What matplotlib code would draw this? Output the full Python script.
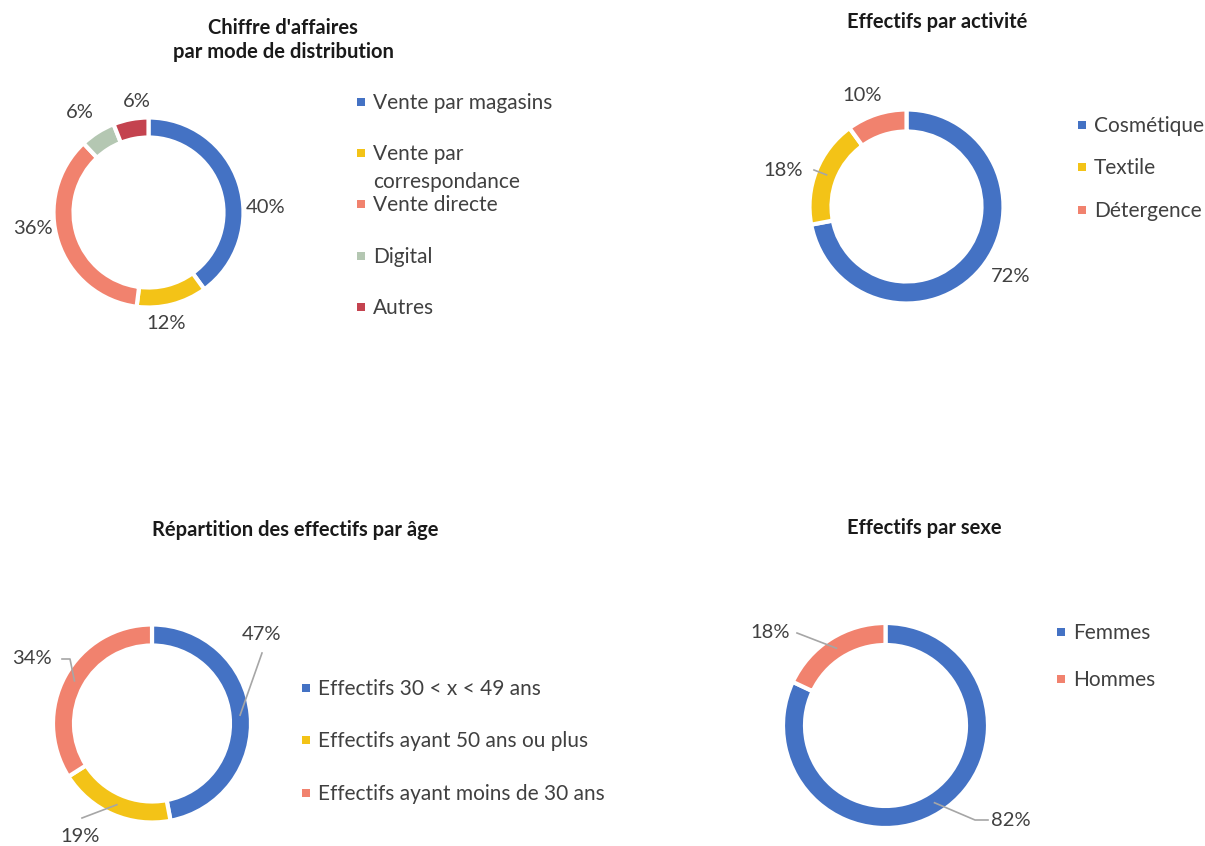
import matplotlib
matplotlib.use("Agg")
import matplotlib.pyplot as plt
from matplotlib.patches import Rectangle
import numpy as np

plt.rcParams['font.family'] = ['Lato', 'DejaVu Sans']

W, H = 1205, 846

# ---------------- data ----------------
title1 = "Chiffre d'affaires\npar mode de distribution"
cats1 = ["Vente par magasins", "Vente par\ncorrespondance", "Vente directe", "Digital", "Autres"]
vals1 = [40, 12, 36, 6, 6]

title2 = "Effectifs par activité"
cats2 = ["Cosmétique", "Textile", "Détergence"]
vals2 = [72, 18, 10]

title3 = "Répartition des effectifs par âge"
cats3 = ["Effectifs 30 < x < 49 ans", "Effectifs ayant 50 ans ou plus", "Effectifs ayant moins de 30 ans"]
vals3 = [47, 19, 34]

title4 = "Effectifs par sexe"
cats4 = ["Femmes", "Hommes"]
vals4 = [82, 18]

BLUE = "#4472C4"
YELLOW = "#F3C317"
SALMON = "#F1826E"
GREEN = "#B4C7B2"
RED = "#C4434F"
TXT = "#404040"

cols1 = [BLUE, YELLOW, SALMON, GREEN, RED]
cols2 = [BLUE, YELLOW, SALMON]
cols3 = [BLUE, YELLOW, SALMON]
cols4 = [BLUE, SALMON]

fig = plt.figure(figsize=(W / 100, H / 100), dpi=100)
ax = fig.add_axes([0, 0, 1, 1])


def Y(y):
    return H - y


def mid_point(vals, i, cx, cy, r):
    tot = sum(vals)
    start = sum(vals[:i])
    frac = (start + vals[i] / 2) / tot
    ang = np.deg2rad(90 - frac * 360)
    return cx + r * np.cos(ang), cy - r * np.sin(ang)


charts = [
    dict(vals=vals1, cats=cats1, cols=cols1, title=title1, c=(148.5, 212.5), r=95, w=20,
         title_xy=(283, 40),
         labels=[(266, 207, None), (166, 323, None), (33, 228, None), (80, 112, None), (137, 101, None)],
         leg_x=361, leg_y=[102, 153, 204, 256, 307]),
    dict(vals=vals2, cats=cats2, cols=cols2, title=title2, c=(906.5, 206.5), r=97, w=22,
         title_xy=(937, 22),
         labels=[(1011, 276, None), (783, 170, [(814, 170)]), (862, 95, None)],
         leg_x=1082, leg_y=[125, 167, 210]),
    dict(vals=vals3, cats=cats3, cols=cols3, title=title3, c=(152, 723.5), r=99, w=21,
         title_xy=(295, 530),
         labels=[(262, 635, [(262, 653)]), (80, 836, [(82, 818)]), (32, 659, [(70, 659), (62, 659)])],
         leg_x=306, leg_y=[688, 740, 793]),
    dict(vals=vals4, cats=cats4, cols=cols4, title=title4, c=(885.5, 725.5), r=102.5, w=22,
         title_xy=(924, 528),
         labels=[(1011, 820, [(975, 820), (988, 820)]), (770, 633, [(797, 633)])],
         leg_x=1061, leg_y=[632, 679]),
]

for ch in charts:
    cx, cy = ch['c']
    ax.pie(ch['vals'], colors=ch['cols'], startangle=90, counterclock=False,
           center=(cx, Y(cy)), radius=ch['r'],
           wedgeprops=dict(width=ch['w'], edgecolor='white', linewidth=3))
    ax.text(ch['title_xy'][0], Y(ch['title_xy'][1]), ch['title'], ha='center', va='center',
            fontsize=14.5, fontweight='bold', color='#1a1a1a', linespacing=1.3)
    for i, (v, (lx, ly, lead)) in enumerate(zip(ch['vals'], ch['labels'])):
        ax.text(lx, Y(ly), f"{v}%", ha='center', va='center', fontsize=14.5, color=TXT)
        if lead:
            px, py = mid_point(ch['vals'], i, cx, cy, ch['r'] - ch['w'] / 2)
            xs = [px] + [p[0] for p in lead]
            ys = [Y(py)] + [Y(p[1]) for p in lead]
            ax.plot(xs, ys, color='#A6A6A6', lw=1.2)
    for cat, col, ly in zip(ch['cats'], ch['cols'], ch['leg_y']):
        ax.add_patch(Rectangle((ch['leg_x'] - 4, Y(ly) - 4), 8, 8, facecolor=col, edgecolor='none'))
        ax.text(ch['leg_x'] + 12, Y(ly) + 9, cat, ha='left', va='top', fontsize=15,
                color=TXT, linespacing=1.5)

ax.set_xlim(0, W)
ax.set_ylim(0, H)
ax.set_aspect('equal')
ax.axis('off')

fig.savefig("out.png", dpi=100, facecolor='white')
